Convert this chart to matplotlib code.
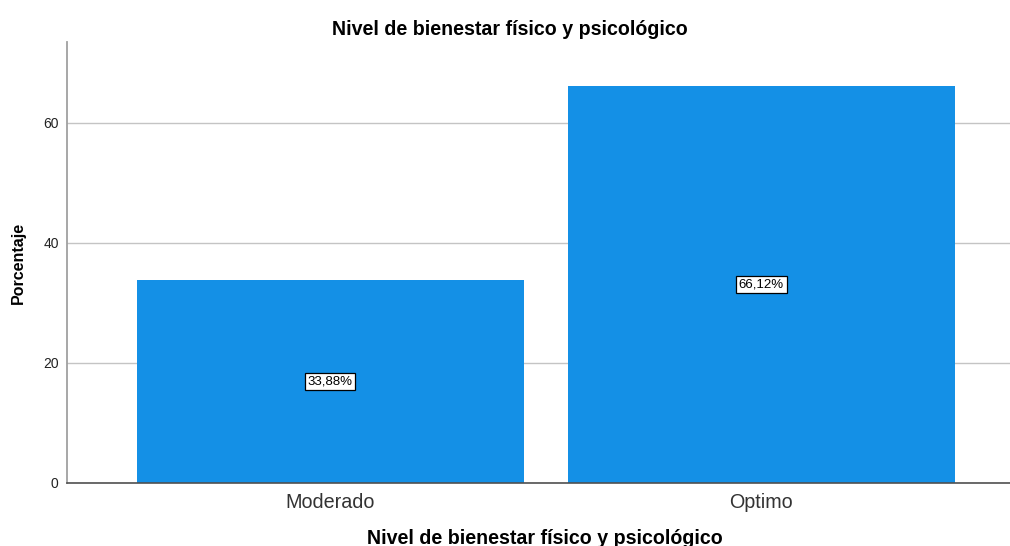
import matplotlib.pyplot as plt

plt.rcParams['font.family'] = ['Liberation Sans', 'DejaVu Sans']

categorias = ['Moderado', 'Optimo']
porcentajes = [33.88, 66.12]
etiquetas = ['33,88%', '66,12%']

titulo = 'Nivel de bienestar físico y psicológico'

fig = plt.figure(figsize=(10.1, 5.46), dpi=100)
ax = fig.add_axes([0.0663, 0.1154, 0.9337, 0.8077])

pos = list(range(len(categorias)))
bars = ax.bar(pos, porcentajes, width=0.898, color='#1490e6', zorder=2)

for b, lbl in zip(bars, etiquetas):
    ax.text(b.get_x() + b.get_width() / 2, b.get_height() / 2, lbl,
            ha='center', va='center', fontsize=9.5, color='black', zorder=3,
            bbox=dict(boxstyle='square,pad=0.2', fc='white', ec='black', lw=0.9))

ax.set_xlim(-0.611, 1.577)
ax.set_ylim(0, 73.5)
ax.set_yticks([0, 20, 40, 60])
ax.set_xticks(pos)
ax.set_xticklabels(categorias, fontsize=14.2, color='#333333')
ax.tick_params(axis='y', length=0, labelsize=10, pad=6, labelcolor='#222222')
ax.tick_params(axis='x', length=0, pad=7)
ax.yaxis.grid(True, color='#c4c4c4', lw=1, zorder=1)

for s in ['top', 'right']:
    ax.spines[s].set_visible(False)
ax.spines['left'].set_color('#a0a0a0')
ax.spines['left'].set_linewidth(1.3)
ax.spines['bottom'].set_color('#505050')
ax.spines['bottom'].set_linewidth(1.2)

# titulo centrado en la figura, no en los ejes
ax.set_title(titulo, fontsize=14.1, fontweight='bold', pad=5, x=0.47)
ax.set_xlabel(titulo, fontsize=14.1, fontweight='bold')
ax.xaxis.set_label_coords(0.507, -0.126)
ax.xaxis.label.set_va('center')
ax.set_ylabel('Porcentaje', fontsize=11.5, fontweight='bold', labelpad=12)

fig.savefig('out.png', dpi=100)
